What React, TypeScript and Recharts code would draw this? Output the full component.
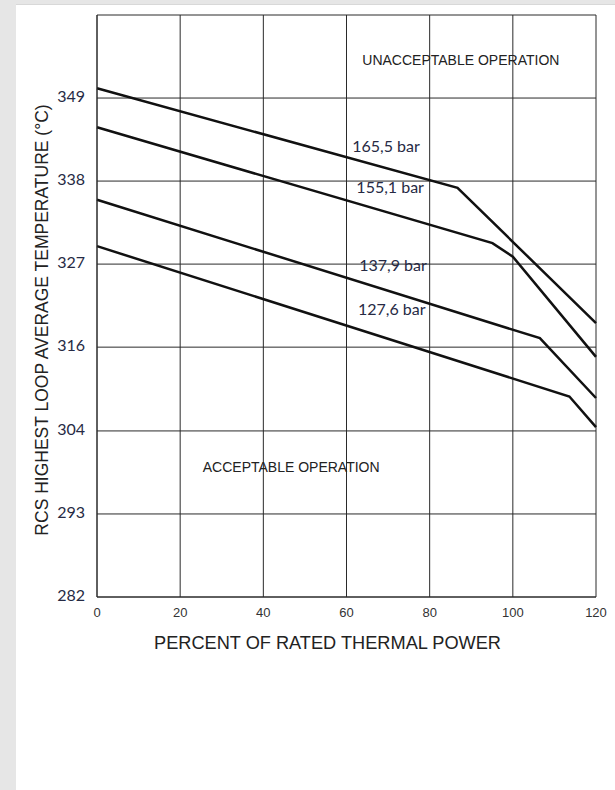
import { CartesianGrid, Line, LineChart, ReferenceDot, ReferenceLine, XAxis, YAxis } from "recharts";

// percent of rated thermal power
const powerTicks = [0, 20, 40, 60, 80, 100, 120];
// °C values of the grid lines (540..660 °F)
const tempTicks = [282.2, 293.3, 304.4, 315.6, 326.7, 337.8, 348.9];
const tempMax = 360;

const line1655 = [
  { power: 0, temp: 350.2 },
  { power: 86.7, temp: 336.9 },
  { power: 120, temp: 318.8 },
];
const line1551 = [
  { power: 0, temp: 345.0 },
  { power: 95.1, temp: 329.5 },
  { power: 100, temp: 327.7 },
  { power: 120, temp: 314.3 },
];
const line1379 = [
  { power: 0, temp: 335.3 },
  { power: 106.5, temp: 316.8 },
  { power: 120, temp: 308.8 },
];
const line1276 = [
  { power: 0, temp: 329.1 },
  { power: 113.6, temp: 309.0 },
  { power: 120, temp: 304.9 },
];

const series = [
  { name: "165,5 bar", data: line1655 },
  { name: "155,1 bar", data: line1551 },
  { name: "137,9 bar", data: line1379 },
  { name: "127,6 bar", data: line1276 },
];

const pressureLabels = [
  { text: "165,5 bar", power: 69.5, temp: 342.5 },
  { text: "155,1 bar", power: 70.5, temp: 337.0 },
  { text: "137,9 bar", power: 71.2, temp: 326.5 },
  { text: "127,6 bar", power: 70.9, temp: 320.6 },
];

const regionLabels = [
  { text: "UNACCEPTABLE OPERATION", power: 87.5, temp: 354.0 },
  { text: "ACCEPTABLE OPERATION", power: 46.7, temp: 299.6 },
];

const yTitle = "RCS HIGHEST LOOP AVERAGE TEMPERATURE (°C)";
const xTitle = "PERCENT OF RATED THERMAL POWER";

const navy = "#262a44";
const grid = "#2a2a2a";
const arial = "Liberation Sans, Arial, sans-serif";

function YTitle(props: any) {
  const vb = props.viewBox || {};
  const cx = 42;
  const cy = (vb.y ?? 15) + (vb.height ?? 582) / 2 + 14;
  return (
    <text
      x={cx}
      y={cy}
      transform={`rotate(-90, ${cx}, ${cy})`}
      textAnchor="middle"
      dominantBaseline="central"
      fill="#222"
      fontSize={17.5}
      fontFamily={arial}
    >
      {yTitle}
    </text>
  );
}

export default function App() {
  return (
    <div
      style={{
        position: "absolute",
        left: 0,
        top: 0,
        width: 615,
        height: 790,
        background: "#e6e6e6",
        overflow: "hidden",
      }}
    >
      <div
        style={{
          position: "absolute",
          left: 16,
          top: 4,
          width: 599,
          height: 786,
          background: "#ffffff",
          borderTop: "1px solid #d8d8d8",
        }}
      />
      <LineChart
        width={615}
        height={790}
        margin={{ top: 15, right: 19, left: 0, bottom: 153 }}
        style={{ position: "absolute", left: 0, top: 0 }}
      >
        <CartesianGrid stroke={grid} strokeWidth={1} horizontalValues={tempTicks} verticalValues={powerTicks} />
        <ReferenceLine y={tempMax} stroke={grid} strokeWidth={1} />
        <XAxis
          type="number"
          dataKey="power"
          domain={[0, 120]}
          ticks={powerTicks}
          axisLine={{ stroke: grid }}
          tickLine={false}
          tickSize={0}
          tickMargin={11}
          height={40}
          tick={{ fill: "#333", fontSize: 13, fontFamily: arial }}
          label={{
            value: xTitle,
            position: "insideBottom",
            offset: -12,
            dx: -19,
            fill: "#222",
            fontSize: 18.2,
            fontFamily: arial,
          }}
        />
        <YAxis
          type="number"
          dataKey="temp"
          domain={[tempTicks[0], tempMax]}
          ticks={tempTicks}
          allowDataOverflow
          width={97}
          axisLine={{ stroke: grid }}
          tickLine={false}
          tickSize={0}
          tickMargin={12}
          tickFormatter={(v: number) => String(Math.round(v))}
          tick={{ fill: navy, fontSize: 16, fontFamily: "Lato, sans-serif", dy: -2 }}
          label={<YTitle />}
        />
        {series.map((s) => (
          <Line
            key={s.name}
            data={s.data}
            dataKey="temp"
            type="linear"
            stroke="#111"
            strokeWidth={2.5}
            dot={false}
            activeDot={false}
            isAnimationActive={false}
          />
        ))}
        {pressureLabels.map((l) => (
          <ReferenceDot
            key={l.text}
            x={l.power}
            y={l.temp}
            r={0}
            stroke="none"
            fill="none"
            label={{ value: l.text, position: "center", fill: navy, fontSize: 16, fontFamily: "Lato, sans-serif" }}
          />
        ))}
        {regionLabels.map((l) => (
          <ReferenceDot
            key={l.text}
            x={l.power}
            y={l.temp}
            r={0}
            stroke="none"
            fill="none"
            label={{ value: l.text, position: "center", fill: "#222", fontSize: 14, fontFamily: arial }}
          />
        ))}
      </LineChart>
    </div>
  );
}
